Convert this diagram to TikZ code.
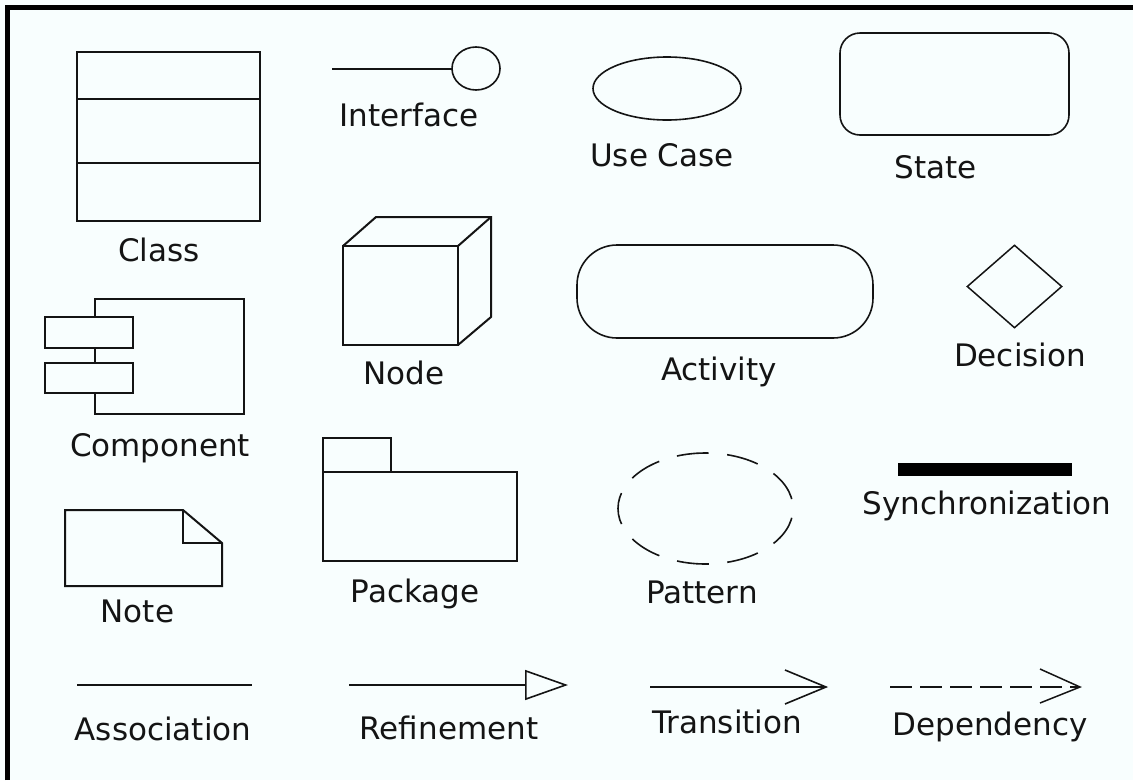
\documentclass[tikz,border=0pt]{standalone}
\usepackage{fontspec}
\setmainfont{DejaVu Sans}
\usetikzlibrary{shapes.geometric,arrows.meta}
\definecolor{bgc}{RGB}{248,254,254}
\definecolor{ink}{RGB}{20,20,20}
\begin{document}
\begin{tikzpicture}[x=1pt,y=-1pt,
  shp/.style={draw=ink, line width=2pt, inner sep=0pt, outer sep=0pt},
  crv/.style={draw=ink, line width=1.6pt, inner sep=0pt, outer sep=0pt},
  lbl/.style={text=ink, inner sep=0pt, font=\fontsize{31}{37}\selectfont, text height=22.6pt, text depth=0pt},
  conn/.style={draw=ink, line width=2pt}]
\fill[bgc] (0,0) rectangle (1133,780);
\useasboundingbox (0,0) rectangle (1133,780);
% frame (top and left only)
\draw[line width=4.5pt, black] (7.5,780) -- (7.5,7.5) -- (1133,7.5);

% Class
\node[shp, rectangle, minimum width=183pt, minimum height=169pt] (cls) at (168.5,136.5) {};
\draw[conn] (cls.west |- 0,99) -- (cls.east |- 0,99);
\draw[conn] (cls.west |- 0,163) -- (cls.east |- 0,163);
\node[lbl] (lcls) at (159,250) {Class};

% Interface
\node[crv, ellipse, minimum width=48pt, minimum height=43pt] (ifc) at (476,68.5) {};
\coordinate (ifl) at (332,68.5);
\draw[conn] (ifl) -- (ifc.west);
\node[lbl] (lifc) at (409,115) {Interface};

% Use Case
\node[crv, ellipse, minimum width=148pt, minimum height=63pt] (uc) at (667,88.5) {};
\node[lbl] (luc) at (662,155) {Use Case};

% State
\node[crv, rectangle, rounded corners=20pt, minimum width=229pt, minimum height=102pt] (st) at (954.5,84) {};
\node[lbl] (lst) at (936,167) {State};

% Node (cube)
\node[shp, rectangle, minimum width=115pt, minimum height=99pt] (nf) at (400.5,295.5) {};
\draw[conn, line join=miter] (nf.north west) -- ++(33,-29) coordinate (nbl) -- ++(115,0) coordinate (nbr) -- ++(0,100) -- (nf.south east);
\draw[conn] (nf.north east) -- (nbr);
\node[lbl] (lnd) at (404,373) {Node};

% Component
\node[shp, rectangle, minimum width=149pt, minimum height=115pt] (cmp) at (169.5,356.5) {};
\node[shp, rectangle, fill=bgc, minimum width=88pt, minimum height=31pt] (cp1) at (89,332.5) {};
\node[shp, rectangle, fill=bgc, minimum width=88pt, minimum height=30pt] (cp2) at (89,378) {};
\node[lbl] (lcmp) at (160,445) {Component};

% Activity
\node[crv, rectangle, rounded corners=40pt, minimum width=296pt, minimum height=93pt] (act) at (725,291.5) {};
\node[lbl] (lact) at (719,369) {Activity};

% Decision
\node[draw=ink, line width=1.5pt, diamond, inner sep=0pt, minimum width=95pt, minimum height=83pt] (dec) at (1014.5,286.5) {};
\node[lbl] (ldec) at (1020,355) {Decision};

% Synchronization
\node[rectangle, fill=black, inner sep=0pt, minimum width=174pt, minimum height=13pt] (syn) at (985,469.5) {};
\node[lbl] (lsyn) at (987,503) {Synchronization};

% Note
\draw[conn, line join=miter] (65,510) coordinate (ntl) -- (183,510) coordinate (nfa) -- (222,543) coordinate (nfb) -- (222,586) -- (65,586) -- cycle;
\draw[conn, line join=miter] (nfa) -- (183,543) -- (nfb);
\node[lbl] (lnote) at (137.5,611) {Note};

% Package
\node[shp, rectangle, minimum width=68pt, minimum height=34pt] (ptab) at (357,455) {};
\node[shp, rectangle, minimum width=194pt, minimum height=89pt] (pbody) at (420,516.5) {};
\node[lbl] (lpkg) at (415,591) {Package};

% Pattern
\node[crv, ellipse, dash pattern=on 32pt off 18.5pt, dash phase=41pt, minimum width=175pt, minimum height=111pt] (pat) at (705.5,508.5) {};
\node[lbl] (lpat) at (702,592) {Pattern};

% Association
\coordinate (as1) at (77,685);
\coordinate (as2) at (252,685);
\draw[conn] (as1) -- (as2);
\node[lbl] (lass) at (163,729) {Association};

% Refinement
\coordinate (rf1) at (349,685);
\coordinate (rf2) at (568,685);
\draw[conn, -{Triangle[open, length=43pt, width=30pt, line width=1.6pt]}] (rf1) -- (rf2);
\node[lbl] (lref) at (449,728) {Refinement};

% Transition
\coordinate (tr1) at (650,687);
\coordinate (tr2) at (826,687);
\draw[conn] (tr1) -- (tr2);
\draw[draw=ink, line width=1.6pt, line join=miter] (tr2) ++(-41,-17) -- (tr2) -- ++(-41,17);
\node[lbl] (ltr) at (727,722) {Transition};

% Dependency
\coordinate (dp1) at (890,687);
\coordinate (dp2) at (1080,687);
\draw[conn, dash pattern=on 22pt off 8pt] (dp1) -- (dp2);
\draw[draw=ink, line width=1.5pt, line join=miter] (dp2) ++(-40,-18) -- (dp2) -- ++(-40,16);
\node[lbl] (ldep) at (990,724) {Dependency};
\end{tikzpicture}
\end{document}
